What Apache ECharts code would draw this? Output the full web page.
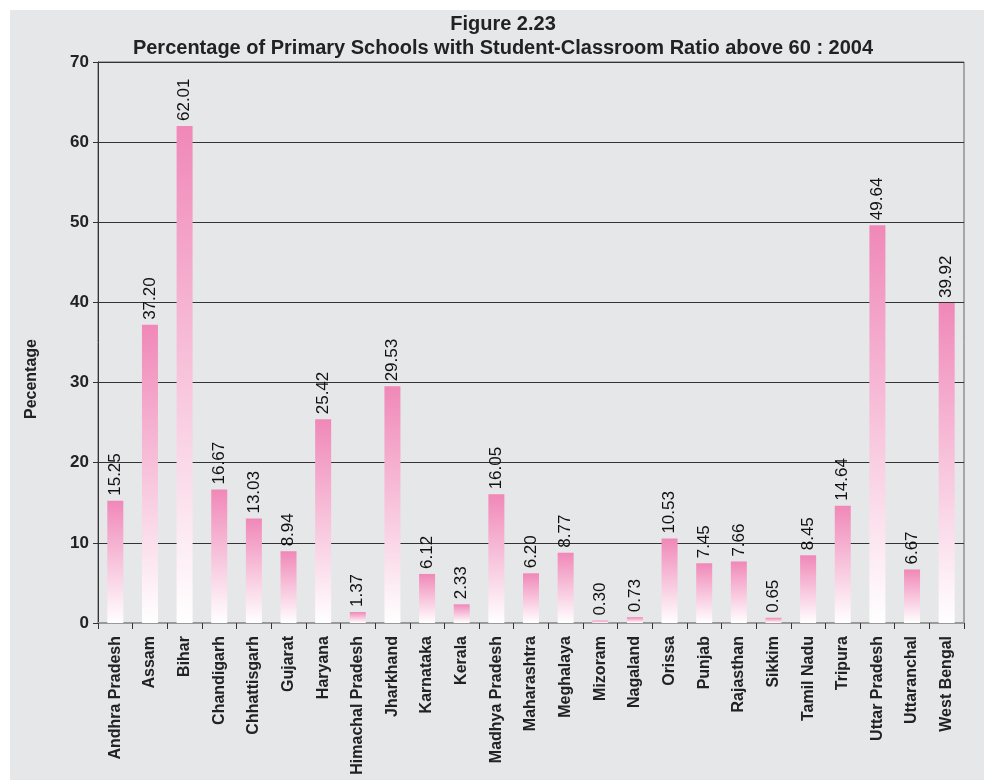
<!DOCTYPE html>
<html><head><meta charset="utf-8">
<script src="https://cdn.jsdelivr.net/npm/echarts@6/dist/echarts.min.js"></script>
<style>html,body{margin:0;padding:0;background:#fff;}#c{position:absolute;left:10px;top:10px;width:974px;height:770px;}</style>
</head><body><div id="c"></div>
<script>
const states = ["Andhra Pradesh","Assam","Bihar","Chandigarh","Chhattisgarh","Gujarat","Haryana","Himachal Pradesh","Jharkhand","Karnataka","Kerala","Madhya Pradesh","Maharashtra","Meghalaya","Mizoram","Nagaland","Orissa","Punjab","Rajasthan","Sikkim","Tamil Nadu","Tripura","Uttar Pradesh","Uttaranchal","West Bengal"];
const percentages = [15.25,37.20,62.01,16.67,13.03,8.94,25.42,1.37,29.53,6.12,2.33,16.05,6.20,8.77,0.30,0.73,10.53,7.45,7.66,0.65,8.45,14.64,49.64,6.67,39.92];
const FONT = 'Liberation Sans, Arial, sans-serif';
const chart = echarts.init(document.getElementById('c'));
chart.setOption({
  backgroundColor: '#e6e7e9',
  animation: false,
  graphic: [{
    type: 'text', x: 493, y: 2,
    style: {text: 'Figure 2.23\nPercentage of Primary Schools with Student-Classroom Ratio above 60 : 2004',
      fontFamily: FONT, fontWeight: 'bold', fontSize: 20, lineHeight: 24, fill: '#222', align: 'center', verticalAlign: 'top'}
  }, {
    type: 'text', x: 22, y: 369, rotation: Math.PI / 2,
    style: {text: 'Pecentage', fontFamily: FONT, fontWeight: 'bold', fontSize: 16, fill: '#222', align: 'center', verticalAlign: 'middle'}
  }],
  grid: {left: 88, top: 52, right: 20, bottom: 157, show: true, borderColor: '#666', borderWidth: 1},
  xAxis: {
    type: 'category', data: states,
    axisLine: {lineStyle: {color: '#999', width: 2}},
    axisTick: {show: true, length: 6, lineStyle: {color: '#333'}},
    axisLabel: {interval: 0, rotate: 90, margin: 13, fontFamily: FONT, fontWeight: 'bold', fontSize: 16, color: '#222'}
  },
  yAxis: {
    type: 'value', min: 0, max: 70, interval: 10,
    axisLine: {show: true, lineStyle: {color: '#333'}},
    axisTick: {show: true, length: 5, lineStyle: {color: '#333'}},
    axisLabel: {fontFamily: FONT, fontWeight: 'bold', fontSize: 17, color: '#222', margin: 9},
    splitLine: {lineStyle: {color: '#333', width: 1}}
  },
  series: [{
    type: 'bar', data: percentages, barWidth: 16,
    itemStyle: {color: new echarts.graphic.LinearGradient(0, 0, 0, 1, [{offset: 0, color: '#f088b8'}, {offset: 1, color: '#ffffff'}])},
    label: {show: true, position: 'top', rotate: 90, align: 'left', verticalAlign: 'middle', distance: 5,
      formatter: p => p.value.toFixed(2),
      fontFamily: FONT, fontSize: 17, color: '#111'}
  }]
});
</script></body></html>
